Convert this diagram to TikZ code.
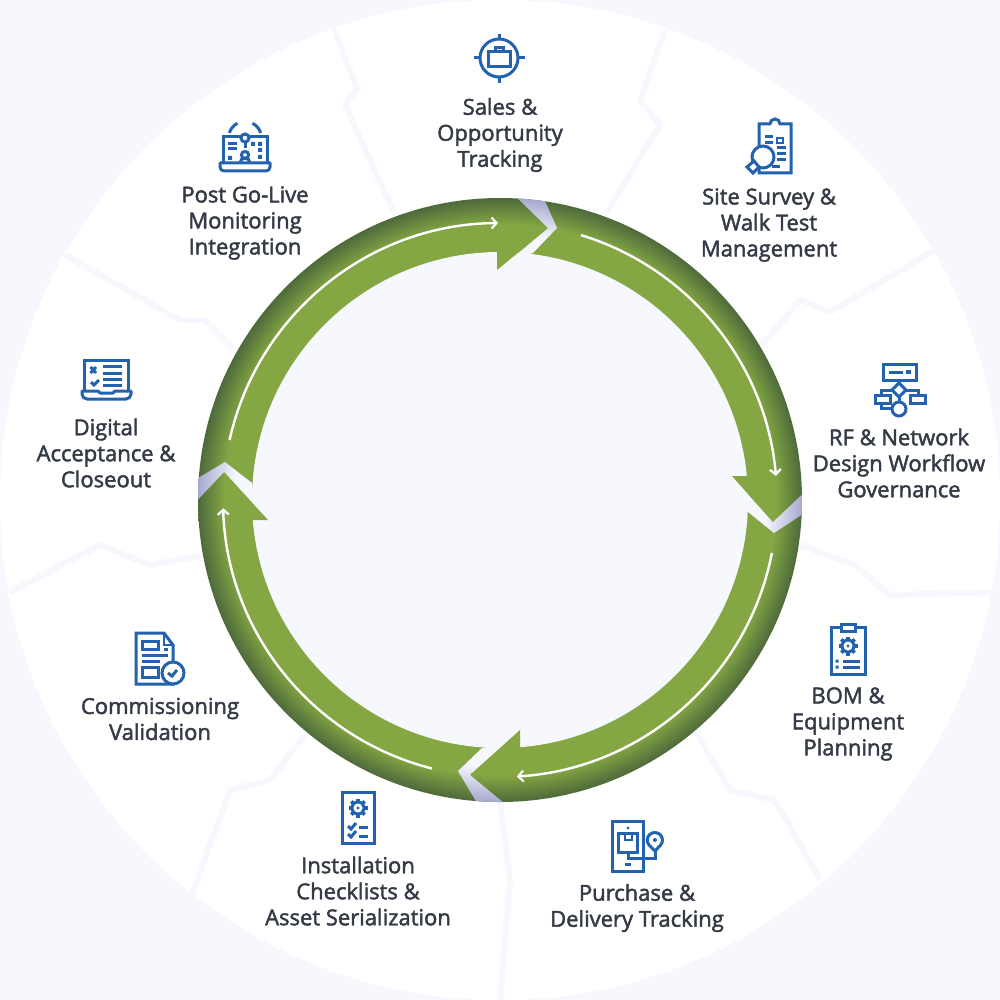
\documentclass[tikz,border=0pt]{standalone}
\usepackage{fontspec}
\setmainfont{Open Sans}[FakeBold=2]
\usetikzlibrary{arrows.meta}
\definecolor{bglav}{HTML}{F7F8FE}
\definecolor{ringgreen}{HTML}{84A743}
\definecolor{ringdark}{HTML}{4E6A3B}
\definecolor{gapgrey}{HTML}{A6A9CE}
\definecolor{iconblue}{HTML}{2362AE}
\definecolor{labelink}{HTML}{343A46}
\pgfdeclareradialshading{ringshade}{\pgfpoint{0bp}{0bp}}{color(0bp)=(ringgreen);color(22.8bp)=(ringgreen);color(25bp)=(ringdark);color(50bp)=(ringdark)}
\pgfdeclareradialshading{gapshade}{\pgfpoint{0bp}{0bp}}{color(0bp)=(bglav);color(22bp)=(bglav);color(25bp)=(gapgrey);color(50bp)=(gapgrey)}
\tikzset{
  sep/.style={draw=bglav,line width=6pt,line join=round},
  flow/.style={draw=white,line width=2.4pt,-{Straight Barb[length=5pt,width=11pt,line width=2.2pt]}},
  lab/.style={text=labelink,align=center,inner sep=0pt,font=\fontsize{22}{26}\selectfont},
  ico/.style={draw=iconblue,line width=3pt,line join=miter},
  icofill/.style={ico,fill=white},
  dotb/.style={fill=iconblue,draw=none},
  head/.style={fill=ringgreen,draw=none}
}
\newcommand{\icongear}[2]{%
  \foreach \a in {0,45,...,315}{\draw[iconblue,line width=3.4pt] ([shift={(#1,#2)}]\a:5.5) -- ([shift={(#1,#2)}]\a:9.5);}
  \draw[ico] (#1,#2) circle[radius=6];
  \fill[iconblue] (#1,#2) circle[radius=1.6];
}
\begin{document}
\begin{tikzpicture}[x=1pt,y=-1pt]
\useasboundingbox (0,0) rectangle (1000,1000);
\fill[bglav] (0,0) rectangle (1000,1000);
\fill[white] (500,500) circle[radius=500];
% separators
\draw[sep] (330,20) -- (357,88) -- (345,105) -- (395,215);
\draw[sep] (665,30) -- (640,100) -- (660,125) -- (605,215);
\draw[sep] (935,250) -- (830,312) -- (800,300) -- (762,345);
\draw[sep] (1000,592) -- (890,595) -- (855,565) -- (800,545);
\draw[sep] (820,880) -- (775,800) -- (730,790) -- (695,730);
\draw[sep] (500,1000) -- (510,880) -- (500,800);
\draw[sep] (190,900) -- (230,790) -- (270,780) -- (305,735);
\draw[sep] (10,592) -- (100,545) -- (150,565) -- (205,555);
\draw[sep] (65,255) -- (180,320) -- (205,320) -- (235,350);
% ring
\shade[shading=ringshade] (500,500) circle[radius=302];
\fill[bglav] (500,500) circle[radius=248];
% gaps
\begin{scope}\clip (510,191) -- (548,228) -- (510,260) -- (533,253) -- (557,228) -- (540,190) -- cycle;
\shade[shading=gapshade] (500,500) circle[radius=302];\end{scope}
\begin{scope}\clip (810,487) -- (773,522) -- (745,491) -- (748,512) -- (774,533) -- (812,508) -- cycle;
\shade[shading=gapshade] (500,500) circle[radius=302];\end{scope}
\begin{scope}\clip (510,808) -- (470,775) -- (505,744) -- (482,748) -- (458,771) -- (480,808) -- cycle;
\shade[shading=gapshade] (500,500) circle[radius=302];\end{scope}
\begin{scope}\clip (190,508) -- (224,472) -- (255,506) -- (252,483) -- (225,462) -- (188,484) -- cycle;
\shade[shading=gapshade] (500,500) circle[radius=302];\end{scope}
% heads
\fill[head] (497,270) -- (548,228) -- (497,235) -- cycle;
\fill[head] (732,476) -- (773,522) -- (770,476) -- cycle;
\fill[head] (520,730) -- (470,775) -- (520,768) -- cycle;
\fill[head] (268,520) -- (224,472) -- (230,520) -- cycle;
% flow lines
\draw[flow] (500,500) ++(-167.5:277) arc[start angle=-167.5,end angle=-90.4,radius=277];
\draw[flow] (500,500) ++(-73:277) arc[start angle=-73,end angle=-5,radius=277];
\draw[flow] (500,500) ++(11:277) arc[start angle=11,end angle=86.5,radius=277];
\draw[flow] (500,500) ++(104.2:277) arc[start angle=104.2,end angle=178.3,radius=277];
% labels
\node[lab] (sales) at (500,135) {Sales \&\\Opportunity\\Tracking};
\node[lab] (site) at (769,225) {Site Survey \&\\Walk Test\\Management};
\node[lab] (rf) at (899,463) {RF \& Network\\Design Workflow\\Governance};
\node[lab] (bom) at (848,724) {BOM \&\\Equipment\\Planning};
\node[lab] (purchase) at (637,908) {Purchase \&\\Delivery Tracking};
\node[lab] (install) at (358,891) {Installation\\Checklists \&\\Asset Serialization};
\node[lab] (comm) at (160,719) {Commissioning\\Validation};
\node[lab] (digital) at (106,453) {Digital\\Acceptance \&\\Closeout};
\node[lab] (post) at (245,223) {Post Go-Live\\Monitoring\\Integration};
% icon: sales
\draw[ico] (499,58) circle[radius=19];
\draw[ico] (499,34) -- (499,40) (499,76) -- (499,83) (474,58) -- (481,58) (517,58) -- (525,58);
\draw[ico] (488,52) rectangle (510,67);
\draw[ico] (495,52) -- (495,48) -- (503,48) -- (503,52);
% icon: site survey
\draw[ico] (759,124) -- (770,124) arc[start angle=180,end angle=360,radius=5] -- (791,124) -- (791,173) -- (759,173) -- cycle;
\draw[ico] (765,137) -- (773,137) (765,143) -- (773,143) (777,148) -- (786,148) (777,154) -- (786,154) (777,160) -- (786,160) (772,167) -- (780,167);
\draw[ico,line width=2.2pt] (777,138) rectangle (783,143);
\draw[icofill] (763,157) circle[radius=11];
\draw[icofill] (747,167) -- (754,161) -- (759,167) -- (753,173) -- cycle;
% icon: RF
\draw[ico] (883,364) rectangle (916,380);
\draw[ico] (889,372) -- (903,372);
\fill[dotb] (906,370) rectangle (911,374);
\draw[ico] (899,380) -- (899,383) (899,383) -- (906,390) -- (899,397) -- (892,390) -- cycle;
\draw[ico] (892,390) -- (881,390) -- (881,395) (906,390) -- (918,390) -- (918,395);
\draw[ico] (875,395) rectangle (890,403) (910,395) rectangle (925,403);
\draw[ico] (899,397) -- (899,402) (881,403) -- (881,408) -- (892,408);
\draw[ico] (899,409) circle[radius=7];
% icon: BOM
\draw[ico] (831,627) rectangle (865,674);
\draw[icofill] (841,624) rectangle (855,631);
\icongear{848}{646}
\fill[dotb] (835.5,659.5) rectangle (838.5,662.5) (835.5,665.5) rectangle (838.5,668.5);
\draw[ico] (843,661) -- (860,661) (843,667) -- (860,667);
% icon: purchase
\draw[ico] (612,821) rectangle (643,871);
\fill[dotb] (628,828) circle[radius=1.6];
\draw[ico] (618,833) rectangle (637,852);
\draw[ico,line width=2.2pt] (625,833) -- (625,840) -- (632,840) -- (632,833);
\draw[ico] (625,864) -- (631,864);
\draw[ico] (628,852) -- (628,858) -- (655,858) -- (655,850);
\draw[icofill] (655,851) -- (649,845) arc[start angle=140,end angle=400,radius=7.6] -- cycle;
\fill[dotb] (655,840) circle[radius=2];
% icon: installation
\draw[ico] (342,792) rectangle (374,843);
\icongear{358}{808}
\draw[ico] (348,826) -- (351,829) -- (356,823) (348,834) -- (351,837) -- (356,831);
\draw[ico] (359,827) -- (368,827) (359,836) -- (368,836);
% icon: commissioning
\draw[ico] (136,633) -- (164,633) -- (173,645) -- (173,684) -- (136,684) -- cycle;
\draw[ico,line width=2pt] (164,633) -- (164,645) -- (173,645);
\draw[ico] (142,641) rectangle (158,649);
\draw[ico] (164,649) -- (168,649) (142,655) -- (168,655) (142,661) -- (160,661);
\draw[ico] (142,667) rectangle (158,677);
\draw[icofill] (173,673) circle[radius=11];
\draw[ico] (168,673) -- (172,676) -- (177,670);
% icon: digital
\draw[ico] (84,391) -- (84,360) -- (128,360) -- (128,391);
\draw[ico,line join=round] (82,391) -- (98,391) -- (100,393) -- (113,393) -- (115,391) -- (131,391) -- (131,394) arc[start angle=0,end angle=90,radius=5] -- (87,399) arc[start angle=90,end angle=180,radius=5] -- cycle;
\draw[ico] (90.5,367) -- (96,373) (96,367) -- (90.5,373);
\draw[ico] (91,382) -- (94,385) -- (99,380);
\draw[ico] (103,366) -- (122,366) (103,373) -- (122,373) (103,379) -- (122,379) (103,385) -- (122,385);
% icon: post
\draw[ico] (223,163) -- (223,137) -- (267,137) -- (267,163);
\draw[ico,line join=round] (220,163) -- (270,163) -- (270,167) arc[start angle=0,end angle=90,radius=4] -- (224,171) arc[start angle=90,end angle=180,radius=4] -- cycle;
\draw[ico] (245,138) ++(-162:16.5) arc[start angle=-162,end angle=-117,radius=16.5];
\draw[ico] (245,138) ++(-18:16.5) arc[start angle=-18,end angle=-63,radius=16.5];
\draw[icofill] (245,138) circle[radius=4];
\draw[ico] (245,142) -- (245,148);
\draw[ico] (245,155) circle[radius=3.6];
\draw[ico] (240,163) arc[start angle=180,end angle=360,radius=5];
\draw[ico] (228,144) -- (237,144) (228,149) -- (237,149);
\fill[dotb] (228,156) rectangle (232,160) (251,142) rectangle (255,146) (258,142) rectangle (262,146) (258,148) rectangle (262,152) (258,155) rectangle (262,159);
\end{tikzpicture}
\end{document}
